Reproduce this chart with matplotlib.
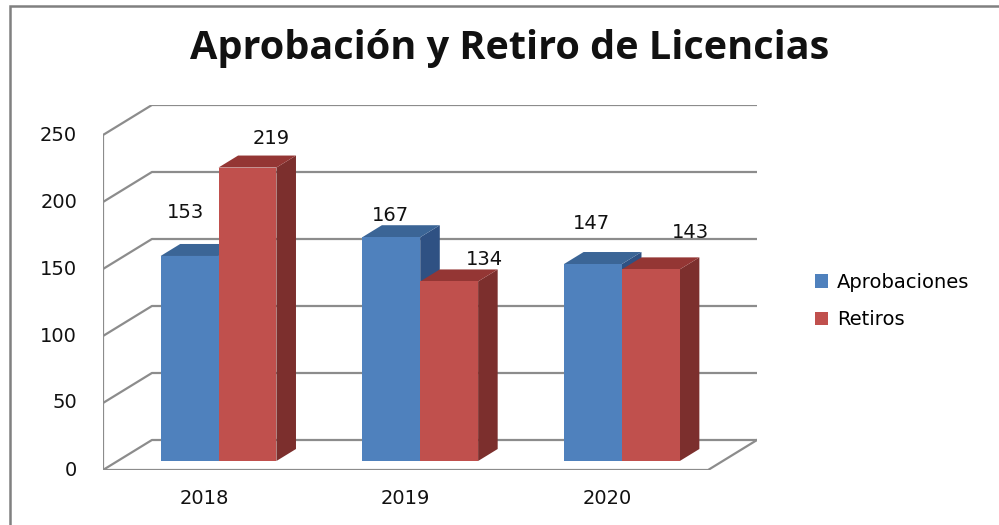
import matplotlib
matplotlib.use('Agg')
import matplotlib.pyplot as plt
from matplotlib.patches import Polygon, Patch, Rectangle
import numpy as np

# Data
years = ['2018', '2019', '2020']
aprobaciones = [153, 167, 147]
retiros = [219, 134, 143]
series_names = ['Aprobaciones', 'Retiros']
yticks = [0, 50, 100, 150, 200, 250]

# label offsets from top of front face (pixels), Excel puts them a bit oddly
lab_off_apr = [(-4, 43), (-1, 22), (-2, 41)]
lab_off_ret = [(24, 29), (35, 22), (40, 37)]

# Colours (front, top, side)
blue = ('#4F81BD', '#3B6596', '#2F5183')
red = ('#C0504D', '#943634', '#7C2F2D')
grid_col = '#8C8C8C'
txt_col = '#111111'
fs = 14

W, H = 999, 525
fig = plt.figure(figsize=(W / 100, H / 100), dpi=100)

# axes rect in pixels: x 103..757, y 105..470
ax = fig.add_axes([103 / W, 1 - 470 / H, (757 - 103) / W, (470 - 105) / H])
dX = 49 / 202.0           # depth shift in category units
dY = 30 / 1.34            # depth shift in value units
ymax = 250
ax.set_xlim(-0.5, 2.5 + dX)
ax.set_ylim(0, ymax + dY)
ax.axis('off')

# walls / grid
for v in yticks:
    ax.plot([-0.5, -0.5 + dX, 2.5 + dX], [v, v + dY, v + dY],
            color=grid_col, lw=1.6, solid_capstyle='butt', zorder=1)
ax.plot([-0.5, -0.5], [0, ymax], color=grid_col, lw=1.6, zorder=1)
ax.plot([-0.5, 2.5, 2.5 + dX], [0, 0, dY], color=grid_col, lw=1.6, zorder=1)


def bar3d(x0, w, v, cols, z0=0.3, z1=0.7):
    fx = x0 + z0 * dX
    bx = x0 + z1 * dX
    fy = z0 * dY
    by = z1 * dY
    side = [(fx + w, fy), (bx + w, by), (bx + w, v + by), (fx + w, v + fy)]
    top = [(fx, v + fy), (fx + w, v + fy), (bx + w, v + by), (bx, v + by)]
    ax.add_patch(Polygon(side, closed=True, fc=cols[2], ec='none', zorder=3))
    ax.add_patch(Polygon(top, closed=True, fc=cols[1], ec='none', zorder=3))
    ax.add_patch(Rectangle((fx, fy), w, v, fc=cols[0], ec='none', zorder=3))
    return fx + w / 2, v + fy


bw = 0.287
x = np.arange(len(years))
for i in range(len(years)):
    cx, ty = bar3d(x[i] - bw, bw, aprobaciones[i], blue)
    ax.annotate(str(aprobaciones[i]), (cx, ty),
                xytext=(lab_off_apr[i][0] * 0.72, lab_off_apr[i][1] * 0.72),
                textcoords='offset points', ha='center', va='center',
                fontsize=fs, color=txt_col, zorder=5)
    cx, ty = bar3d(x[i], bw, retiros[i], red)
    ax.annotate(str(retiros[i]), (cx, ty),
                xytext=(lab_off_ret[i][0] * 0.72, lab_off_ret[i][1] * 0.72),
                textcoords='offset points', ha='center', va='center',
                fontsize=fs, color=txt_col, zorder=5)

# axis labels as text
for v in yticks:
    ax.text(-0.5 - 26 / 202.0, v, str(v), ha='right', va='center',
            fontsize=fs, color=txt_col)
for i, yr in enumerate(years):
    ax.annotate(yr, (x[i], 0), xytext=(0, -28 * 0.72), textcoords='offset points',
                ha='center', va='center', fontsize=fs, color=txt_col)

# legend
handles = [Patch(fc=blue[0], ec='none'), Patch(fc=red[0], ec='none')]
fig.legend(handles, series_names, loc='center left',
           bbox_to_anchor=(797 / W, 1 - 301 / H), frameon=False,
           fontsize=fs, handlelength=0.7, handleheight=0.7,
           handletextpad=0.45, labelspacing=0.95)

# title
fig.text(510 / W, 1 - 48 / H, 'Aprobación y Retiro de Licencias',
         ha='center', va='center', fontsize=28.5, fontweight='bold',
         family=['Open Sans', 'DejaVu Sans'], color=txt_col)

# chart border (only left/top visible in the crop)
fig.patches.append(Rectangle((10 / W, -0.1), 1.2, 1 - 6 / H + 0.1,
                             transform=fig.transFigure, fill=False,
                             ec='#808080', lw=1.8))

fig.savefig('out.png', dpi=100)
